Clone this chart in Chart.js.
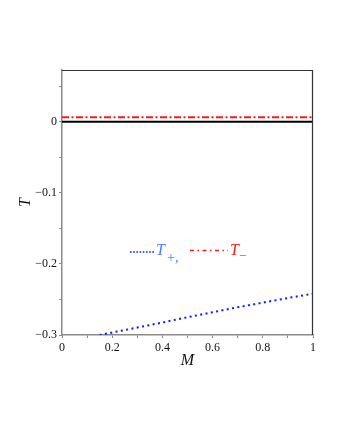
<!DOCTYPE html>
<html>
<head>
<meta charset="utf-8">
<script src="https://cdn.jsdelivr.net/npm/chart.js@4"></script>
<style>
  html, body { margin: 0; padding: 0; background: #fff; }
  #wrap { width: 340px; height: 440px; }
</style>
</head>
<body>
<div id="wrap"><canvas id="plot" width="340" height="440"></canvas></div>
<script>
'use strict';
// data
const mEnds = [0, 1];
const tZero = [0, 0];
const tMinus = [0.006, 0.006];
const mPlus = [0.15, 0.2, 0.3, 0.4, 0.5, 0.6, 0.7, 0.8, 0.9, 1.0];
const tPlus = [-0.3, -0.2965, -0.2895, -0.2825, -0.275, -0.268, -0.261, -0.2545, -0.248, -0.242];
const xTicks = [0, 0.1, 0.2, 0.3, 0.4, 0.5, 0.6, 0.7, 0.8, 0.9, 1];
const xLabels = ['0', '', '0.2', '', '0.4', '', '0.6', '', '0.8', '', '1'];
const yTicks = [0.05, 0, -0.05, -0.1, -0.15, -0.2, -0.25, -0.3];
const yLabels = ['', '0', '', '\u22120.1', '', '\u22120.2', '', '\u22120.3'];

const serif = "'Liberation Serif', 'Times New Roman', serif";
const pts = (xs, ys) => xs.map((x, i) => ({x, y: ys[i]}));

// top/right frame and the hand-set legend line
const extras = {
  id: 'extras',
  afterDatasetsDraw(chart) {
    const {ctx, chartArea: a} = chart;
    ctx.save();
    ctx.strokeStyle = '#333';
    ctx.lineWidth = 1.2;
    ctx.beginPath();
    ctx.moveTo(a.left, a.top + 0.5);
    ctx.lineTo(a.right - 0.5, a.top + 0.5);
    ctx.lineTo(a.right - 0.5, a.bottom);
    ctx.stroke();

    // legend: dotted blue T+, dash-dot red T-
    ctx.lineWidth = 2;
    ctx.strokeStyle = '#3a5cff';
    ctx.setLineDash([1.6, 1.6]);
    ctx.beginPath(); ctx.moveTo(130, 252); ctx.lineTo(154, 252); ctx.stroke();
    ctx.strokeStyle = '#ff1a1a';
    ctx.lineWidth = 1.5;
    ctx.setLineDash([4, 3.5, 1.5, 3.5]);
    ctx.beginPath(); ctx.moveTo(190, 250.5); ctx.lineTo(228, 250.5); ctx.stroke();
    ctx.setLineDash([]);

    ctx.textBaseline = 'alphabetic';
    ctx.textAlign = 'left';
    ctx.fillStyle = '#4d7cff';
    ctx.font = 'italic 16px ' + serif;
    ctx.fillText('T', 156, 255);
    ctx.font = '14px ' + serif;
    ctx.fillText('+,', 167, 262);
    ctx.fillStyle = '#ff1a1a';
    ctx.font = 'italic 16px ' + serif;
    ctx.fillText('T', 230, 255);
    ctx.font = '13px ' + serif;
    ctx.fillText('\u2212', 239, 260);
    ctx.restore();
  }
};

new Chart(document.getElementById('plot'), {
  type: 'scatter',
  data: {
    datasets: [
      { data: pts(mEnds, tZero), showLine: true, borderColor: '#000', borderWidth: 2, pointRadius: 0 },
      { data: pts(mEnds, tMinus), showLine: true, borderColor: '#ff1a1a', borderWidth: 2, borderDash: [7, 2.5, 2, 2.5], pointRadius: 0 },
      { data: pts(mPlus, tPlus), showLine: true, borderColor: '#0a1aff', borderWidth: 2, borderDash: [2, 3.4], pointRadius: 0 }
    ]
  },
  options: {
    responsive: false,
    animation: false,
    layout: { padding: { left: 0, right: 27, top: 70, bottom: 0 } },
    plugins: { legend: { display: false }, tooltip: { enabled: false } },
    scales: {
      x: {
        type: 'linear', min: 0, max: 1,
        afterBuildTicks: s => { s.ticks = xTicks.map(v => ({value: v})); },
        afterFit: s => { s.height = 105; },
        ticks: {
          autoSkip: false, maxRotation: 0, padding: 3, color: '#111',
          font: { family: serif, size: 12 },
          callback: (v, i) => xLabels[i]
        },
        grid: { drawOnChartArea: false, tickLength: 3, color: '#888' },
        border: { color: '#8a8a8a', width: 1.5 },
        title: { display: true, text: 'M', color: '#111', font: { family: serif, size: 16, style: 'italic' }, padding: { top: 0, bottom: 70 } }
      },
      y: {
        type: 'linear', min: -0.3, max: 0.0726,
        afterBuildTicks: s => { s.ticks = yTicks.map(v => ({value: v})); },
        afterFit: s => { s.width = 62; },
        ticks: {
          autoSkip: false, padding: 2, color: '#111',
          font: { family: serif, size: 12 },
          callback: (v, i) => yLabels[i]
        },
        grid: { drawOnChartArea: false, tickLength: 3, color: '#888' },
        border: { color: '#8a8a8a', width: 1.5 },
        title: { display: true, text: 'T', color: '#111', font: { family: serif, size: 16, style: 'italic' }, padding: { top: 16, bottom: 0 } }
      }
    }
  },
  plugins: [extras]
});
</script>
</body>
</html>
